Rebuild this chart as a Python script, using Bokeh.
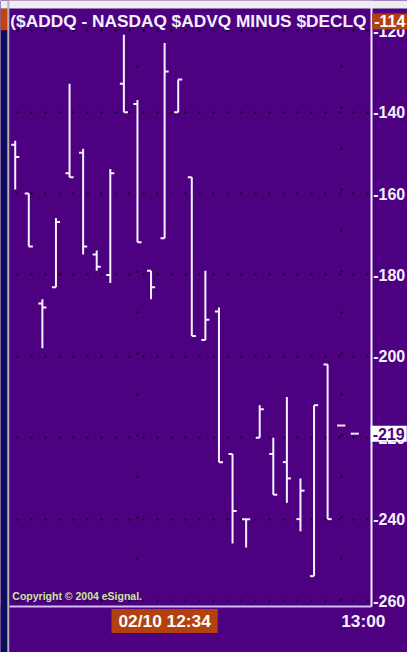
from bokeh.plotting import figure
from bokeh.models import FixedTicker, Label, BoxAnnotation, Span
from bokeh.embed import file_html
from bokeh.resources import INLINE

# ---- data (2-minute bars, 02/10) ----
times = ["12:12", "12:14", "12:16", "12:18", "12:20", "12:22", "12:24", "12:26",
         "12:28", "12:30", "12:32", "12:34", "12:36", "12:38", "12:40", "12:42",
         "12:44", "12:46", "12:48", "12:50", "12:52", "12:54", "12:56", "12:58",
         "13:00", "13:02"]
opens  = [-148, -160, -187, -183, -155, -150, -175, -180, -133, -138, -179, -171, -140,
          -156, -196, -189, -224, -240, -220, -224, -226, -240, -254, -202, -217, -219]
highs  = [-147, -160, -186, -166, -133, -149, -174, -154, -121, -137, -179, -123, -132,
          -156, -179, -188, -224, -240, -212, -220, -210, -230, -212, -202, -217, -219]
lows   = [-159, -173, -198, -183, -156, -175, -179, -182, -140, -172, -186, -171, -140,
          -195, -196, -226, -246, -247, -220, -234, -236, -243, -254, -240, -217, -219]
closes = [-151, -173, -188, -167, -156, -173, -178, -155, -140, -172, -183, -130, -132,
          -195, -191, -226, -238, -240, -213, -234, -230, -233, -212, -240, -217, -219]
y_ticks = [-120, -140, -160, -180, -200, -220, -240, -260]
title_text = "($ADDQ - NASDAQ $ADVQ MINUS $DECLQ"
date_text = "02/10"
cursor_value = -114
last_value = -219
cursor_time = "12:34"
grid_time = "13:00"
half_time = "12:30"

PURPLE = "#4d007f"
ORANGE = "#b3400f"
BAR = "#f6f2ff"
DOT = "#10001c"
FONT = "Liberation Sans"

# canvas extent and chart-area edges, in bar-index / value units
X0, X1 = -1.083, 28.88
Y0, Y1 = -272.77, -112.57
PLOT_LEFT = -0.433
PLOT_TOP = -114.51
AXIS_X = 26.21                # right value axis position
AXIS_Y = -261.36              # bottom time axis position

idx = list(range(len(times)))
w = 0.3

p = figure(width=407, height=652, x_range=(X0, X1), y_range=(Y0, Y1),
           output_backend="svg", toolbar_location=None, y_axis_location="right",
           background_fill_color=PURPLE, border_fill_color=PURPLE, min_border=0)
p.outline_line_color = None

# grids
p.ygrid.ticker = FixedTicker(ticks=y_ticks)
p.ygrid.grid_line_color = DOT
p.ygrid.grid_line_width = 2
p.ygrid.grid_line_dash = "2 12"
p.ygrid.grid_line_dash_offset = 12
p.xgrid.ticker = FixedTicker(ticks=[times.index(half_time), times.index(grid_time)])
p.xgrid.grid_line_color = DOT
p.xgrid.grid_line_width = 2
p.xgrid.grid_line_dash = "2 39"
p.xgrid.grid_line_dash_offset = 30

# panels around the chart area (hide grid outside it, window frame strips)
p.add_layout(BoxAnnotation(left=AXIS_X, fill_color=PURPLE, fill_alpha=1, line_color=None, level="underlay"))
p.add_layout(BoxAnnotation(top=AXIS_Y, fill_color=PURPLE, fill_alpha=1, line_color=None, level="underlay"))
p.add_layout(BoxAnnotation(right=PLOT_LEFT, fill_color="#0c0c58", fill_alpha=1, line_color=None, level="underlay"))
p.add_layout(BoxAnnotation(right=PLOT_LEFT, top=PLOT_TOP, bottom=-119.85, fill_color="#c4440e",
                           fill_alpha=1, line_color=None, level="underlay"))
p.add_layout(BoxAnnotation(bottom=PLOT_TOP, fill_color="#eeeeee", fill_alpha=1, line_color=None, level="underlay"))
p.add_layout(Span(location=-0.51, dimension="height", line_color="#b4b4bc", line_width=2))

# axes
ya = p.yaxis[0]
ya.fixed_location = AXIS_X
ya.bounds = (AXIS_Y, Y1)
ya.ticker = FixedTicker(ticks=y_ticks)
ya.major_label_overrides = {t: str(t) for t in y_ticks}
ya.major_tick_out = 0
ya.major_tick_in = 0
ya.minor_tick_out = 0
ya.minor_tick_in = 0
ya.major_label_standoff = 2
ya.axis_line_color = "#f0ecff"
ya.axis_line_width = 2
ya.major_label_text_color = "#f4f0ff"
ya.major_label_text_font = FONT
ya.major_label_text_font_style = "bold"
ya.major_label_text_font_size = "16px"

xa = p.xaxis[0]
xa.fixed_location = AXIS_Y
xa.bounds = (PLOT_LEFT, AXIS_X)
xa.ticker = FixedTicker(ticks=[])
xa.major_tick_out = 0
xa.major_tick_in = 0
xa.minor_tick_out = 0
xa.minor_tick_in = 0
xa.axis_line_color = "#d4bff0"
xa.axis_line_width = 2

# OHLC bars
p.segment(x0=idx, y0=lows, x1=idx, y1=highs, line_color=BAR, line_width=2)
p.segment(x0=[i - w for i in idx], y0=opens, x1=idx, y1=opens, line_color=BAR, line_width=2)
p.segment(x0=idx, y0=closes, x1=[i + w for i in idx], y1=closes, line_color=BAR, line_width=2)

# texts
p.add_layout(Label(x=PLOT_LEFT, y=PLOT_TOP, x_units="data", y_units="data", x_offset=1, y_offset=-12.5,
                   text=title_text,
                   text_color="#f4f0ff", text_font=FONT, text_font_style="bold",
                   text_font_size="17.3px", text_baseline="middle", text_align="left"))
p.add_layout(Label(x=PLOT_LEFT, y=AXIS_Y, x_units="data", y_units="data", x_offset=3, y_offset=10,
                   text="Copyright \u00a9 2004 eSignal.",
                   text_color="#c8e89a", text_font=FONT, text_font_size="10.5px",
                   text_font_style="bold", text_baseline="middle", text_align="left"))
p.add_layout(Label(x=AXIS_X, y=PLOT_TOP, x_units="data", y_units="data", x_offset=18.5, y_offset=-13,
                   text=str(cursor_value),
                   text_color="white", text_font=FONT, text_font_style="bold",
                   text_font_size="16px", text_baseline="middle", text_align="center",
                   background_fill_color=ORANGE, padding=2))
p.add_layout(Label(x=AXIS_X, y=last_value, x_units="data", y_units="data", x_offset=17.5,
                   text=str(last_value),
                   text_color=PURPLE, text_font=FONT, text_font_style="bold",
                   text_font_size="16px", text_baseline="middle", text_align="center",
                   background_fill_color="white", padding=2))
p.add_layout(Label(x=times.index(cursor_time), y=AXIS_Y, x_units="data", y_units="data", y_offset=-15,
                   text=date_text + " " + cursor_time,
                   text_color="white", text_font=FONT, text_font_style="bold",
                   text_font_size="17.3px", text_baseline="middle", text_align="center",
                   background_fill_color=ORANGE, padding=(7, 2)))
p.add_layout(Label(x=times.index(grid_time), y=AXIS_Y, x_units="data", y_units="data", y_offset=-15,
                   text=grid_time,
                   text_color="#f4f0ff", text_font=FONT, text_font_style="bold",
                   text_font_size="17.3px", text_baseline="middle", text_align="left"))

open("out.html", "w").write(file_html(p, INLINE))
